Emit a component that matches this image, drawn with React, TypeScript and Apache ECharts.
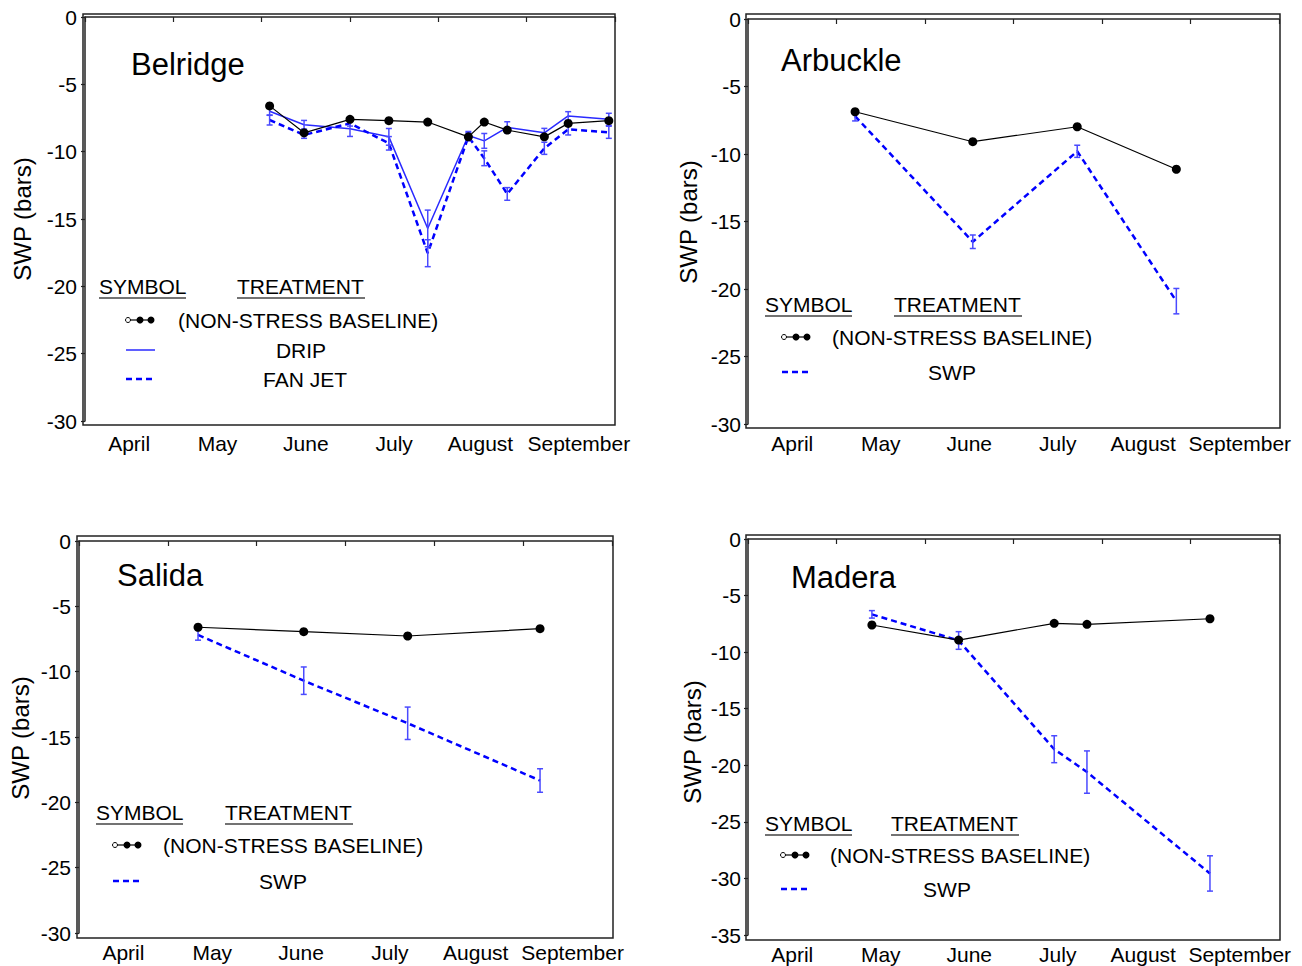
import React, { useEffect, useRef } from "react";
import * as echarts from "echarts";

const MONTHS = ["April", "May", "June", "July", "August", "September"];

// Belridge (x = months since start of April)
const belX = [2.09, 2.48, 3.0, 3.44, 3.88, 4.34, 4.52, 4.78, 5.2, 5.47, 5.93];
const belBase = [-6.6, -8.6, -7.6, -7.7, -7.8, -8.9, -7.8, -8.4, -8.9, -7.9, -7.7];
const belDrip = [-7.0, -8.0, -8.3, -8.9, -15.7, -8.8, -9.2, -8.2, -8.6, -7.35, -7.6];
const belDripErr = [0.3, 0.32, 0.57, 0.62, 1.36, 0.3, 0.55, 0.42, 0.33, 0.32, 0.45];
const belFan = [-7.65, -8.76, -7.9, -9.38, -17.54, -8.89, -10.49, -13.14, -9.75, -8.34, -8.56];
const belFanErr = [0.37, 0.25, 0.2, 0.5, 1.0, 0.3, 0.55, 0.47, 0.45, 0.42, 0.45];

// Arbuckle
const arbX = [1.21, 2.54, 3.72, 4.84];
const arbBase = [-6.87, -9.09, -7.98, -11.13];
const arbSwp = [-7.2, -16.5, -9.8, -20.9];
const arbErr = [0.35, 0.5, 0.45, 0.94];

// Salida
const salX = [1.34, 2.53, 3.7, 5.19];
const salBase = [-6.6, -6.94, -7.27, -6.71];
const salSwp = [-7.19, -10.69, -13.95, -18.33];
const salErr = [0.4, 1.05, 1.24, 0.9];

// Madera
const madX = [1.4, 2.38, 3.46, 3.83, 5.22];
const madBase = [-7.6, -8.93, -7.45, -7.54, -7.05];
const madSwp = [-6.66, -8.97, -18.58, -20.6, -29.56];
const madErr = [0.33, 0.78, 1.19, 1.87, 1.56];

const FONT = "'Liberation Sans', Arial, sans-serif";
const BLUE = "#0000ff";
const BLUE_SOLID = "#2a2aff";
const ERR_BLUE = "#4a4aff";

type Treat = { name: string; values: number[]; err: number[]; dashed: boolean };
type Panel = {
  title: string;
  x: number[];
  base: number[];
  treats: Treat[];
  yMin: number;
  grid: { left: number; top: number; width: number; height: number };
  box: { x: number; y: number; w: number; h: number };
  xLabelMargin: number;
  yLabelMargin: number;
  septShift: number;
  augShift: number;
  titlePos: [number, number];
  yNamePos: [number, number];
  hdrY: number;
  symHdrX: number;
  trtHdrX: number;
  symX: number;
  rows: { y: number; kind: "base" | "solid" | "dash"; text: string; tx: number; align: string }[];
};

const PANELS: Panel[] = [
  {
    title: "Belridge",
    x: belX,
    base: belBase,
    treats: [
      { name: "DRIP", values: belDrip, err: belDripErr, dashed: false },
      { name: "FAN JET", values: belFan, err: belFanErr, dashed: true },
    ],
    yMin: -30,
    grid: { left: 85, top: 17, width: 530, height: 404 },
    box: { x: 83, y: 14, w: 532, h: 411 },
    xLabelMargin: 8,
    yLabelMargin: 6,
    septShift: 8,
    augShift: 2,
    titlePos: [131, 64],
    yNamePos: [22, 219],
    hdrY: 286,
    symHdrX: 99,
    trtHdrX: 237,
    symX: 125,
    rows: [
      { y: 320, kind: "base", text: "(NON-STRESS BASELINE)", tx: 178, align: "left" },
      { y: 350, kind: "solid", text: "DRIP", tx: 301, align: "center" },
      { y: 379, kind: "dash", text: "FAN JET", tx: 305, align: "center" },
    ],
  },
  {
    title: "Arbuckle",
    x: arbX,
    base: arbBase,
    treats: [{ name: "SWP", values: arbSwp, err: arbErr, dashed: true }],
    yMin: -30,
    grid: { left: 748, top: 19, width: 531, height: 405 },
    box: { x: 746, y: 14, w: 534, h: 414 },
    xLabelMargin: 5,
    yLabelMargin: 5,
    septShift: 5,
    augShift: 3,
    titlePos: [781, 60],
    yNamePos: [688, 222],
    hdrY: 304,
    symHdrX: 765,
    trtHdrX: 894,
    symX: 781,
    rows: [
      { y: 337, kind: "base", text: "(NON-STRESS BASELINE)", tx: 832, align: "left" },
      { y: 372, kind: "dash", text: "SWP", tx: 952, align: "center" },
    ],
  },
  {
    title: "Salida",
    x: salX,
    base: salBase,
    treats: [{ name: "SWP", values: salSwp, err: salErr, dashed: true }],
    yMin: -30,
    grid: { left: 79, top: 541, width: 533, height: 392 },
    box: { x: 77, y: 536, w: 536, h: 402 },
    xLabelMargin: 4,
    yLabelMargin: 6,
    septShift: 5,
    augShift: 3,
    titlePos: [117, 575],
    yNamePos: [20, 738],
    hdrY: 812,
    symHdrX: 96,
    trtHdrX: 225,
    symX: 112,
    rows: [
      { y: 845, kind: "base", text: "(NON-STRESS BASELINE)", tx: 163, align: "left" },
      { y: 881, kind: "dash", text: "SWP", tx: 283, align: "center" },
    ],
  },
  {
    title: "Madera",
    x: madX,
    base: madBase,
    treats: [{ name: "SWP", values: madSwp, err: madErr, dashed: true }],
    yMin: -35,
    grid: { left: 748, top: 539, width: 531, height: 396 },
    box: { x: 746, y: 535, w: 534, h: 405 },
    xLabelMargin: 4,
    yLabelMargin: 5,
    septShift: 5,
    augShift: 3,
    titlePos: [791, 577],
    yNamePos: [692, 742],
    hdrY: 823,
    symHdrX: 765,
    trtHdrX: 891,
    symX: 780,
    rows: [
      { y: 855, kind: "base", text: "(NON-STRESS BASELINE)", tx: 830, align: "left" },
      { y: 889, kind: "dash", text: "SWP", tx: 947, align: "center" },
    ],
  },
];

function txt(text: string, x: number, y: number, size: number, align = "left", rotation = 0): any {
  return {
    type: "text",
    x,
    y,
    rotation,
    z: 20,
    style: {
      text,
      fill: "#000",
      fontSize: size,
      fontFamily: FONT,
      align,
      textAlign: align,
      verticalAlign: "middle",
      textVerticalAlign: "middle",
    },
  };
}

function ln(x1: number, y1: number, x2: number, y2: number, stroke: string, lineWidth: number, dash?: number[]): any {
  return {
    type: "line",
    z: 20,
    shape: { x1, y1, x2, y2 },
    style: { stroke, lineWidth, lineDash: dash },
  };
}

function buildOption() {
  const grid: any[] = [];
  const xAxis: any[] = [];
  const yAxis: any[] = [];
  const series: any[] = [];
  const graphic: any[] = [];

  PANELS.forEach((p, i) => {
    grid.push({ ...p.grid, containLabel: false });
    const gridBottom = p.grid.top + p.grid.height;
    const lblStyle = { fontSize: 21, fontFamily: FONT, color: "#000" };
    xAxis.push({
      gridIndex: i,
      type: "category",
      data: MONTHS,
      boundaryGap: true,
      position: "bottom",
      offset: p.box.y + p.box.h - gridBottom,
      axisLine: { show: true, lineStyle: { color: "#222", width: 1.5 } },
      axisTick: { show: true, inside: false, length: 5, lineStyle: { color: "#222", width: 1.2 } },
      axisLabel: {
        interval: 0,
        margin: p.xLabelMargin,
        ...lblStyle,
        formatter: (v: string) =>
          v === "September" ? "{s|" + v + "}" : v === "August" ? "{a|" + v + "}" : v,
        rich: {
          s: { ...lblStyle, padding: [0, 0, 0, 2 * p.septShift] },
          a: { ...lblStyle, padding: [0, 2 * p.augShift, 0, 0] },
        },
      },
      splitLine: { show: false },
    });
    xAxis.push({ gridIndex: i, type: "value", min: 0, max: 6, show: false });
    yAxis.push({
      gridIndex: i,
      type: "value",
      min: p.yMin,
      max: 0,
      interval: 5,
      offset: p.grid.left - p.box.x,
      axisLine: { show: true, lineStyle: { color: "#222", width: 1.5 } },
      axisTick: { show: true, inside: false, length: 4, lineStyle: { color: "#222", width: 1.2 } },
      axisLabel: { margin: p.yLabelMargin, ...lblStyle },
      splitLine: { show: false },
    });

    const xi = 2 * i + 1;
    p.treats.forEach((t) => {
      series.push({
        type: "line",
        xAxisIndex: xi,
        yAxisIndex: i,
        data: p.x.map((x, k) => [x, t.values[k]]),
        symbol: "none",
        lineStyle: t.dashed
          ? { color: BLUE, width: 2.5, type: [6, 4] }
          : { color: BLUE_SOLID, width: 1.5 },
        z: 3,
      });
      series.push({
        type: "custom",
        xAxisIndex: xi,
        yAxisIndex: i,
        data: p.x.map((x, k) => [x, t.values[k], t.err[k]]),
        encode: { x: 0, y: 1 },
        z: 4,
        renderItem: (_params: any, api: any) => {
          const x = api.value(0);
          const y = api.value(1);
          const e = api.value(2);
          const top = api.coord([x, y + e]);
          const bot = api.coord([x, y - e]);
          const cw = 3;
          const st = { stroke: ERR_BLUE, lineWidth: 1.5 };
          return {
            type: "group",
            children: [
              { type: "line", shape: { x1: top[0], y1: top[1], x2: bot[0], y2: bot[1] }, style: st },
              { type: "line", shape: { x1: top[0] - cw, y1: top[1], x2: top[0] + cw, y2: top[1] }, style: st },
              { type: "line", shape: { x1: bot[0] - cw, y1: bot[1], x2: bot[0] + cw, y2: bot[1] }, style: st },
            ],
          };
        },
      });
    });
    series.push({
      type: "line",
      xAxisIndex: xi,
      yAxisIndex: i,
      data: p.x.map((x, k) => [x, p.base[k]]),
      symbol: "circle",
      symbolSize: 9,
      itemStyle: { color: "#000" },
      lineStyle: { color: "#000", width: 1.2 },
      z: 6,
    });

    // frame
    graphic.push({
      type: "rect",
      z: 15,
      shape: { x: p.box.x, y: p.box.y, width: p.box.w, height: p.box.h },
      style: { fill: "rgba(0,0,0,0)", stroke: "#222", lineWidth: 1.5 },
    });
    // title
    graphic.push(txt(p.title, p.titlePos[0], p.titlePos[1], 31));
    // y name
    graphic.push(txt("SWP (bars)", p.yNamePos[0], p.yNamePos[1], 24, "center", Math.PI / 2));
    // legend headers
    graphic.push(txt("SYMBOL", p.symHdrX, p.hdrY, 21));
    graphic.push(ln(p.symHdrX, p.hdrY + 12, p.symHdrX + 87, p.hdrY + 12, "#444", 1.5));
    graphic.push(txt("TREATMENT", p.trtHdrX, p.hdrY, 21));
    graphic.push(ln(p.trtHdrX, p.hdrY + 12, p.trtHdrX + 128, p.hdrY + 12, "#444", 1.5));
    p.rows.forEach((r) => {
      const sx = p.symX;
      if (r.kind === "base") {
        graphic.push(ln(sx + 3, r.y, sx + 27, r.y, "#000", 1.2));
        graphic.push({ type: "circle", z: 21, shape: { cx: sx + 3, cy: r.y, r: 2.5 }, style: { fill: "#fff", stroke: "#000", lineWidth: 1 } });
        graphic.push({ type: "circle", z: 21, shape: { cx: sx + 15, cy: r.y, r: 3.5 }, style: { fill: "#000" } });
        graphic.push({ type: "circle", z: 21, shape: { cx: sx + 26, cy: r.y, r: 3.5 }, style: { fill: "#000" } });
      } else if (r.kind === "solid") {
        graphic.push(ln(sx + 1, r.y, sx + 30, r.y, BLUE_SOLID, 1.5));
      } else {
        graphic.push(ln(sx + 1, r.y, sx + 30, r.y, BLUE, 2.5, [6, 4]));
      }
      graphic.push(txt(r.text, r.tx, r.y, 21, r.align));
    });
  });

  return {
    animation: false,
    backgroundColor: "#fff",
    grid,
    xAxis,
    yAxis,
    series,
    graphic: { elements: graphic },
  };
}

export default function App() {
  const ref = useRef<HTMLDivElement>(null);
  useEffect(() => {
    if (!ref.current) return;
    const chart = echarts.init(ref.current, undefined, { renderer: "svg" });
    chart.setOption(buildOption() as any);
    return () => chart.dispose();
  }, []);
  return (
    <div
      ref={ref}
      style={{ position: "fixed", left: 0, top: 0, width: 1302, height: 966, background: "#fff" }}
    />
  );
}
